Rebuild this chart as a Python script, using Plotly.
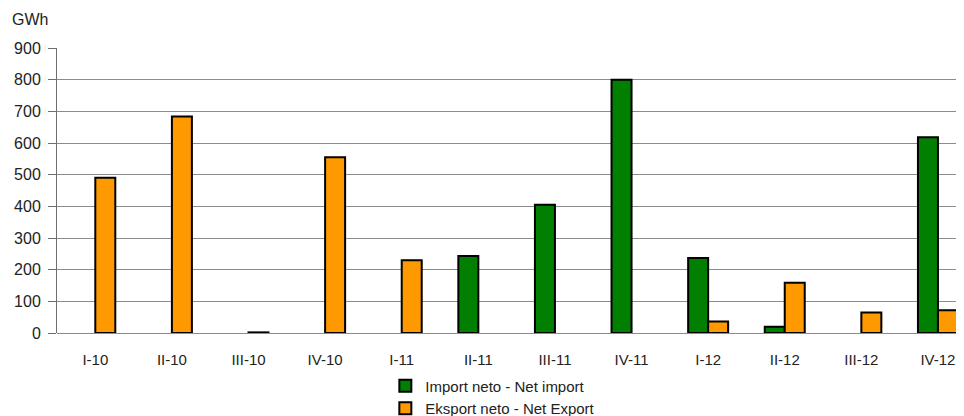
import plotly.graph_objects as go

categories = ["I-10", "II-10", "III-10", "IV-10", "I-11", "II-11", "III-11", "IV-11",
              "I-12", "II-12", "III-12", "IV-12"]
net_import = [None, None, None, None, None, 243, 405, 800, 237, 20, None, 618]
net_export = [490, 684, 2, 555, 230, None, None, None, 36, 159, 65, 72]
y_ticks = [0, 100, 200, 300, 400, 500, 600, 700, 800, 900]

FONT = "Liberation Sans, Arial, sans-serif"

fig = go.Figure()
fig.add_trace(go.Bar(
    x=categories, y=net_import, name="Import neto - Net import",
    marker=dict(color="#007F00", line=dict(color="#000000", width=2)),
))
fig.add_trace(go.Bar(
    x=categories, y=net_export, name="Eksport neto - Net Export",
    marker=dict(color="#FF9900", line=dict(color="#000000", width=2)),
))

fig.update_layout(
    width=956, height=408,
    margin=dict(l=49, r=0, t=40, b=83, autoexpand=False),
    paper_bgcolor="white", plot_bgcolor="white",
    barmode="group", bargap=0.478, bargroupgap=0,
    font=dict(family=FONT, size=16, color="#222222"),
    showlegend=True,
    legend=dict(x=0.362, y=-0.128, xanchor="left", yanchor="top",
                font=dict(size=15), bgcolor="rgba(0,0,0,0)",
                traceorder="normal", itemwidth=30),
    xaxis=dict(range=[-0.5, 11.34], showgrid=False, showline=False,
               ticks="", ticklabelstandoff=16, tickfont=dict(size=15)),
    yaxis=dict(range=[0, 900], tickvals=y_ticks, showgrid=True,
               gridcolor="#8c8c8c", gridwidth=1, zeroline=True,
               zerolinecolor="#8c8c8c", zerolinewidth=1,
               showline=True, linecolor="#6e6e6e", linewidth=1,
               ticks="outside", ticklen=8, tickcolor="#6e6e6e",
               ticklabelstandoff=4, tickfont=dict(size=16)),
    annotations=[dict(text="GWh", xref="paper", yref="paper",
                      x=-47 / 907, y=1 + 28 / 285, xanchor="left",
                      yanchor="middle", showarrow=False,
                      font=dict(size=16, family=FONT, color="#222222"))],
)

fig.write_html("out.html")
